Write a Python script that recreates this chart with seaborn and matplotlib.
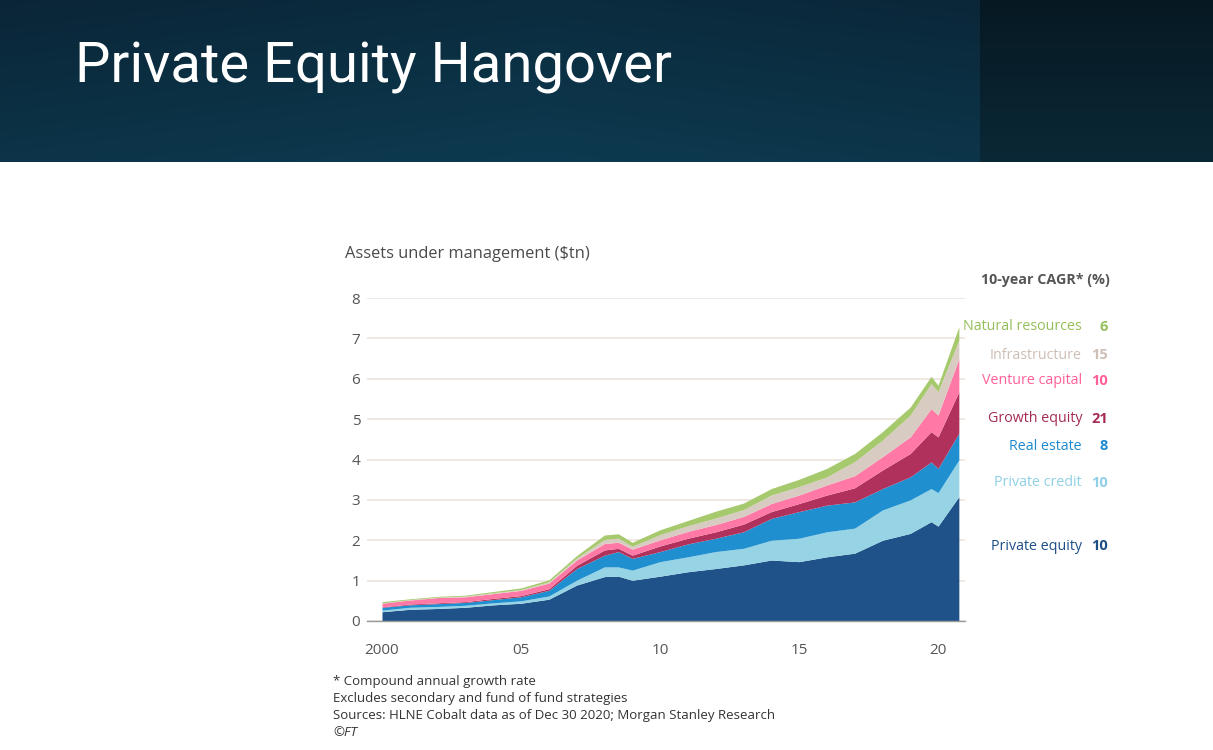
import numpy as np
import matplotlib
matplotlib.use("Agg")
import matplotlib.pyplot as plt
import seaborn as sns
from matplotlib import font_manager

# ---------------- data ----------------
years = [2000, 2001, 2002, 2003, 2004, 2005, 2006, 2007, 2008, 2008.5, 2009, 2010,
         2011, 2012, 2013, 2014, 2015, 2016, 2017, 2018, 2019, 2019.75, 2020, 2020.75]

private_equity = [0.23, 0.29, 0.31, 0.34, 0.40, 0.44, 0.54, 0.89, 1.10, 1.11, 1.01, 1.11,
                  1.22, 1.30, 1.39, 1.51, 1.47, 1.59, 1.68, 2.00, 2.17, 2.46, 2.35, 3.08]
private_credit = [0.04, 0.05, 0.05, 0.05, 0.05, 0.06, 0.08, 0.12, 0.24, 0.23, 0.25, 0.36,
                  0.37, 0.42, 0.41, 0.49, 0.58, 0.62, 0.62, 0.75, 0.83, 0.82, 0.83, 0.91]
real_estate = [0.07, 0.06, 0.07, 0.07, 0.08, 0.10, 0.14, 0.29, 0.29, 0.38, 0.29, 0.25,
               0.32, 0.33, 0.41, 0.54, 0.66, 0.66, 0.65, 0.53, 0.57, 0.66, 0.60, 0.66]
growth_equity = [0.01, 0.02, 0.02, 0.02, 0.03, 0.03, 0.04, 0.08, 0.13, 0.08, 0.08, 0.14,
                 0.14, 0.16, 0.19, 0.17, 0.20, 0.25, 0.35, 0.46, 0.58, 0.75, 0.78, 1.03]
venture_capital = [0.09, 0.10, 0.13, 0.12, 0.12, 0.13, 0.14, 0.13, 0.16, 0.15, 0.15, 0.15,
                   0.17, 0.18, 0.19, 0.20, 0.21, 0.25, 0.30, 0.33, 0.41, 0.57, 0.54, 0.82]
infrastructure = [0.01, 0.01, 0.01, 0.02, 0.02, 0.02, 0.03, 0.05, 0.10, 0.10, 0.07, 0.13,
                  0.14, 0.16, 0.17, 0.21, 0.21, 0.20, 0.35, 0.41, 0.54, 0.62, 0.58, 0.46]
natural_resources = [0.03, 0.02, 0.02, 0.02, 0.03, 0.04, 0.05, 0.06, 0.11, 0.11, 0.10, 0.12,
                     0.13, 0.17, 0.16, 0.16, 0.18, 0.21, 0.20, 0.21, 0.20, 0.18, 0.16, 0.33]

series_names = ["Private equity", "Private credit", "Real estate", "Growth equity",
                "Venture capital", "Infrastructure", "Natural resources"]
cagr = ["10", "10", "8", "21", "10", "15", "6"]

x_ticks = [2000, 2005, 2010, 2015, 2020]
x_ticklabels = ["2000", "05", "10", "15", "20"]
y_ticks = [0, 1, 2, 3, 4, 5, 6, 7, 8]

fill_colors = ["#1f5289", "#96d3e5", "#1f8fcf", "#b0325c", "#ff78a6", "#d8cbc2", "#a6c96e"]
text_colors = ["#1e4f86", "#8fd0e6", "#1d8ad0", "#a52a55", "#ff5f98", "#cdbfb6", "#95bf5a"]

# ---------------- style ----------------
sns.set_theme(style="white")
avail = {f.name for f in font_manager.fontManager.ttflist}
base_font = "Open Sans" if "Open Sans" in avail else "DejaVu Sans"
plt.rcParams["font.family"] = [base_font, "DejaVu Sans"]

W, H = 1213, 750
fig = plt.figure(figsize=(W / 100, H / 100), dpi=100)
fig.patch.set_facecolor("white")

# header band with gradient
hdr_h = 162
hax = fig.add_axes([0, 1 - hdr_h / H, 1, hdr_h / H])
xx = np.linspace(0, 1, W)[None, :]
yy = np.linspace(0, 1, hdr_h)[:, None]
c_tl = np.array([0x0a, 0x24, 0x35]) / 255
c_bm = np.array([0x0d, 0x3a, 0x50]) / 255
t = np.clip(0.65 * yy + 0.35 * (1 - np.abs(xx - 0.45) / 0.55), 0, 1)
img = c_tl[None, None, :] * (1 - t[..., None]) + c_bm[None, None, :] * t[..., None]
right = (np.arange(W) >= 980)
c_rt = np.array([0x06, 0x19, 0x23]) / 255
c_rb = np.array([0x0b, 0x28, 0x36]) / 255
tr = np.broadcast_to(yy, (hdr_h, W))
img_r = c_rt[None, None, :] * (1 - tr[..., None]) + c_rb[None, None, :] * tr[..., None]
img[:, right, :] = img_r[:, right, :]
hax.imshow(img, aspect="auto", extent=[0, 1, 0, 1])
hax.set_axis_off()

title_font = "Roboto" if "Roboto" in avail else base_font
fig.text(75 / W, 1 - 67 / H, "Private Equity Hangover", color="white", fontsize=40.5,
         family=[title_font, "DejaVu Sans"], va="center", ha="left")

# ---------------- main chart ----------------
ax = fig.add_axes([367 / W, 1 - 621 / H, (965 - 367) / W, (621 - 298) / H])
ax.stackplot(years, private_equity, private_credit, real_estate, growth_equity,
             venture_capital, infrastructure, natural_resources,
             colors=fill_colors, linewidth=0, zorder=3)
ax.set_xlim(2000 - 15 / 27.8, 2000 + (965 - 382) / 27.8)
ax.set_ylim(0, 8)
ax.set_yticks(y_ticks)
ax.set_xticks(x_ticks)
ax.set_xticklabels(x_ticklabels)
ax.set_xticks(list(range(2000, 2021)), minor=True)
ax.grid(axis="y", color="#ece3db", linewidth=1.2, zorder=0)
ax.grid(axis="x", visible=False)
for s in ["top", "right", "left"]:
    ax.spines[s].set_visible(False)
ax.spines["bottom"].set_color("#9a9a9a")
ax.spines["bottom"].set_linewidth(1.0)
ax.spines["bottom"].set_zorder(4)
ax.tick_params(axis="y", length=0, pad=8, labelsize=11, labelcolor="#555555")
ax.tick_params(axis="x", which="both", length=11, width=0.8, color="#dddddd",
               direction="out", labelsize=11, labelcolor="#555555", pad=5)
for lbl in ax.get_yticklabels():
    lbl.set_horizontalalignment("center")

fig.text(345 / W, 1 - 254 / H, "Assets under management ($tn)", fontsize=11.8,
         color="#4a4a4a", va="center", ha="left")

# right-hand labels
fig.text(1110 / W, 1 - 280 / H, "10-year CAGR* (%)", fontsize=10.3, fontweight="bold",
         color="#555555", va="center", ha="right")
label_px = [546, 483, 446, 419, 381, 355, 327]
for name, val, col, py in zip(series_names, cagr, text_colors, label_px):
    fig.text(1082 / W, 1 - py / H, name, fontsize=10.3, color=col, va="center", ha="right")
    fig.text(1108 / W, 1 - py / H, val, fontsize=10.5, color=col, va="center", ha="right",
             fontweight="bold")

# footnotes
notes = ["* Compound annual growth rate",
         "Excludes secondary and fund of fund strategies",
         "Sources: HLNE Cobalt data as of Dec 30 2020; Morgan Stanley Research"]
for i, n in enumerate(notes):
    fig.text(333 / W, 1 - (681 + 17.5 * i) / H, n, fontsize=9.5, color="#333333",
             va="center", ha="left")
fig.text(333 / W, 1 - 733 / H, "\u00a9FT", fontsize=9.5, color="#333333",
         va="center", ha="left", style="italic")

fig.savefig("out.png", dpi=100, facecolor="white")
